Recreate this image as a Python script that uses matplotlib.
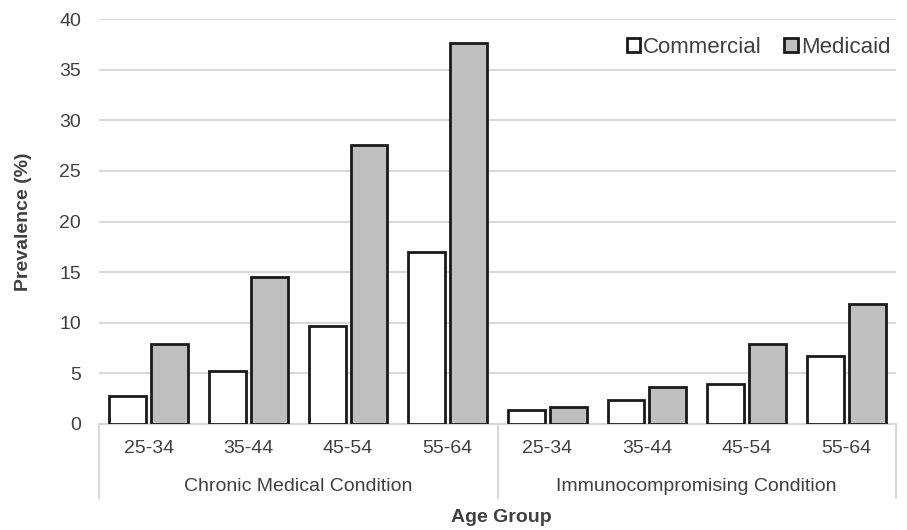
import numpy as np
import matplotlib.pyplot as plt

plt.rcParams['font.family'] = ['Liberation Sans', 'DejaVu Sans']

ages = ['25-34', '35-44', '45-54', '55-64']
groups = ['Chronic Medical Condition', 'Immunocompromising Condition']
commercial = [2.8, 5.2, 9.7, 17.0, 1.4, 2.4, 4.0, 6.7]
medicaid = [7.9, 14.5, 27.6, 37.6, 1.7, 3.7, 7.9, 11.9]

fig = plt.figure(figsize=(9.07, 5.30), dpi=100)
ax = fig.add_axes([99/907, 1-424/530, 797/907, 405/530])

x = np.arange(len(commercial)) + 0.5
w = 0.37
ax.bar(x - 0.21, commercial, w, color='white', edgecolor='#1a1a1a', linewidth=2, label='Commercial', zorder=3)
ax.bar(x + 0.21, medicaid, w, color='#bfbfbf', edgecolor='#1a1a1a', linewidth=2, label='Medicaid', zorder=3)

ax.set_xlim(0, 8)
ax.set_ylim(0, 40)
ax.set_yticks(range(0, 41, 5))
ax.yaxis.grid(True, color='#d9d9d9', linewidth=1.5, zorder=0)
ax.set_axisbelow(True)
for s in ['top', 'right', 'left']:
    ax.spines[s].set_visible(False)
ax.spines['bottom'].set_color('#d9d9d9')
ax.spines['bottom'].set_linewidth(1.5)
ax.tick_params(axis='y', length=0, labelsize=14, colors='#404040', pad=13)
ax.tick_params(axis='x', length=0)
ax.set_xticks([])

# category axis: age labels, group labels, separators
for xi, lab in zip(x, ages * 2):
    ax.text(xi, -2.45, lab, ha='center', va='center', fontsize=14, color='#404040')
for gi, g in enumerate(groups):
    ax.text(gi * 4 + 2, -6.2, g, ha='center', va='center', fontsize=14, color='#404040')
for xs in [0, 4, 8]:
    ax.plot([xs, xs], [0, -7.3], color='#d9d9d9', linewidth=1.5, clip_on=False)

ax.set_ylabel('Prevalence (%)', fontsize=14, fontweight='bold', color='#404040')
ax.yaxis.set_label_coords(-67/797, 0.5)
fig.text(501/907, 1-517/530, 'Age Group', ha='center', va='center', fontsize=14,
         fontweight='bold', color='#404040')

leg = ax.legend(loc='upper right', bbox_to_anchor=(1.018, 1.005), ncol=2, frameon=False, fontsize=16,
                handlelength=0.6, handleheight=0.6, handletextpad=0.15, columnspacing=1.0)
for t in leg.get_texts():
    t.set_color('#404040')

fig.savefig('out.png', dpi=100)
